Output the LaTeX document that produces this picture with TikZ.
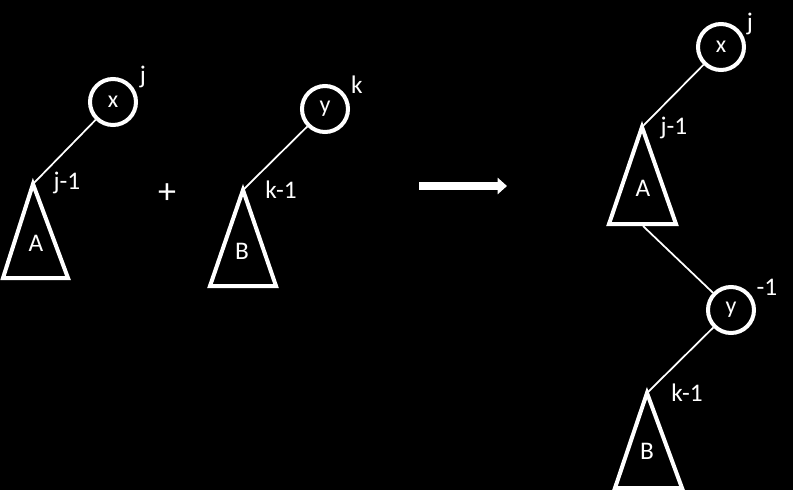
\documentclass[tikz,border=0pt]{standalone}
\usepackage{fontspec}
\setmainfont{Carlito}
\usetikzlibrary{arrows.meta}
\begin{document}
\begin{tikzpicture}[x=0.75pt,y=-0.75pt,
  nd/.style={circle,draw=white,line width=3pt,minimum size=34.5pt,inner sep=0pt,text=white,font=\fontsize{18}{20}\selectfont},
  lbl/.style={text=white,inner sep=0pt,font=\fontsize{19}{21}\selectfont},
  tri/.style={draw=white,line width=3pt,line join=miter},
  edge/.style={draw=white,line width=1.3pt}]
\fill[black] (0,0) rectangle (793,490);
\useasboundingbox (0,0) rectangle (793,490);
% left tree x/A
\node[nd] (x1) at (113,102) {x};
\node[lbl] (j1) at (143,77) {j};
\coordinate (a1) at (33,184);
\draw[tri] (a1) -- (3,278) -- (68,278) -- cycle;
\node[lbl] (A1) at (36,243) {A};
\node[lbl] (jm1) at (67,183) {j-1};
\draw[edge] (x1) -- (a1);
% plus
\node[lbl,font=\fontsize{27}{29}\selectfont] (plus) at (167,194) {+};
% y/B
\node[nd] (y1) at (325,109) {y};
\node[lbl] (k1) at (357,85) {k};
\coordinate (b1) at (243,190);
\draw[tri] (b1) -- (210,286) -- (276,286) -- cycle;
\node[lbl] (B1) at (242,251) {B};
\node[lbl] (km1) at (281,190) {k-1};
\draw[edge] (y1) -- (b1);
% arrow
\coordinate (ar1) at (419,186);
\coordinate (ar2) at (507,186);
\draw[white,line width=6pt,-{Triangle[width=12pt,length=7pt]}] (ar1) -- (ar2);
% right tree
\node[nd] (x2) at (721,47) {x};
\node[lbl] (j2) at (750,24) {j};
\coordinate (a2) at (642,127);
\draw[tri] (a2) -- (609,224) -- (676,224) -- cycle;
\coordinate (a2b) at (643,226);
\node[lbl] (A2) at (643,188) {A};
\node[lbl] (jm2) at (674,128) {j-1};
\draw[edge] (x2) -- (a2);
\node[nd] (y2) at (731,310) {y};
\node[lbl] (m1) at (767,287) {-1};
\draw[edge] (a2b) -- (y2);
\coordinate (b2) at (647,393);
\draw[tri] (b2) -- (615,488) -- (682,488) -- cycle;
\node[lbl] (B2) at (647,451) {B};
\node[lbl] (km2) at (687,393) {k-1};
\draw[edge] (y2) -- (b2);
\end{tikzpicture}
\end{document}
